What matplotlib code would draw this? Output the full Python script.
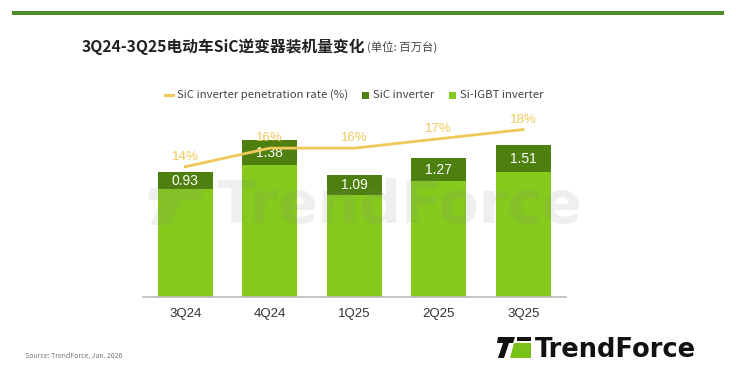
import numpy as np
import matplotlib.pyplot as plt
from matplotlib.patches import Polygon, Rectangle

plt.rcParams['font.family'] = ['Noto Sans CJK SC', 'DejaVu Sans']

# data (units: million)
quarters = ['3Q24', '4Q24', '1Q25', '2Q25', '3Q25']
sic = [0.93, 1.38, 1.09, 1.27, 1.51]
igbt = [6.0, 7.33, 5.67, 6.44, 6.93]
rate = [14, 16, 16, 17, 18]

c_sic = '#4e8010'
c_igbt = '#84c91b'
c_line = '#f0c75a'

fig = plt.figure(figsize=(7.36, 3.86), dpi=100)

def fpx(px, py):
    # pixel position -> figure fraction
    return (px/736, 1 - py/386)

# top green rule
fig.add_artist(Rectangle(fpx(12, 15), 712/736, 3.5/386,
                         transform=fig.transFigure, color='#4c8a2a', lw=0))

# title
fig.text(365/736, 1 - 47/386, '3Q24-3Q25电动车SiC逆变器装机量变化',
         ha='right', va='center', fontsize=11.3, fontweight='bold', color='#222222')
fig.text(367/736, 1 - 48/386, '(单位: 百万台)', ha='left', va='center',
         fontsize=8.2, color='#444444')

ax = fig.add_axes([143/736, (386-297)/386, 422.5/736, 187/386])
x = np.arange(len(quarters))
ax.bar(x, igbt, width=0.65, color=c_igbt, zorder=2, label='Si-IGBT inverter')
ax.bar(x, sic, width=0.65, bottom=igbt, color=c_sic, zorder=2, label='SiC inverter')
for i in range(len(x)):
    ax.text(x[i], igbt[i] + sic[i] / 2, f'{sic[i]:.2f}', ha='center', va='center',
            color='white', fontsize=10, zorder=5, family='Liberation Sans')

ax.set_xlim(-0.5, 4.5)
ax.set_ylim(0, 10.4)
ax.set_xticks(x)
ax.set_xticklabels(quarters, fontsize=9.5, color='#333333', family='Liberation Sans')
ax.tick_params(axis='x', length=0, pad=8)
ax.set_yticks([])
for s in ['top', 'right', 'left']:
    ax.spines[s].set_visible(False)
ax.spines['bottom'].set_color('#bbbbbb')
ax.spines['bottom'].set_linewidth(1.2)

ax2 = ax.twinx()
ax2.plot(x, rate, color=c_line, lw=2, zorder=4)
for i in range(len(x)):
    ax2.annotate(f'{rate[i]}%', (x[i], rate[i]), xytext=(0, 7), textcoords='offset points',
                 ha='center', va='center', color=c_line, fontsize=9.5,
                 family='Liberation Sans')
ax2.set_ylim(0, 20.1)
ax2.set_yticks([])
for s in ['top', 'right', 'left', 'bottom']:
    ax2.spines[s].set_visible(False)

# legend drawn by hand
ly = 1 - 95/386
fig.add_artist(plt.Line2D([165/736, 173/736], [ly, ly], color=c_line, lw=2.2))
fig.text(177/736, ly, 'SiC inverter penetration rate (%)', va='center', fontsize=8.2, color='#444444')
fig.add_artist(Rectangle((362/736, ly - 3.5/386), 7/736, 7/386, color=c_sic, lw=0))
fig.text(373/736, ly, 'SiC inverter', va='center', fontsize=8.2, color='#444444')
fig.add_artist(Rectangle((449/736, ly - 3.5/386), 7/736, 7/386, color=c_igbt, lw=0))
fig.text(460/736, ly, 'Si-IGBT inverter', va='center', fontsize=8.2, color='#444444')

# watermark
fig.add_artist(Polygon([fpx(150, 188), fpx(205, 188), fpx(200, 200), fpx(182, 200),
                        fpx(170, 225), fpx(150, 225), fpx(162, 200), fpx(148, 200)],
                       closed=True, transform=fig.transFigure, color='#888888',
                       alpha=0.12, lw=0, zorder=10))
fig.text(400/736, 1 - 206/386, 'TrendForce', ha='center', va='center', fontsize=42,
         fontweight='bold', color='#888888', alpha=0.13, zorder=10, family='DejaVu Sans')

# source
fig.text(25/736, 1 - 356/386, 'Source: TrendForce, Jan. 2026', fontsize=5, color='#777777',
         va='center')

# logo
fig.add_artist(Polygon([fpx(498, 337), fpx(515, 337), fpx(513, 343), fpx(509, 343),
                        fpx(504, 358), fpx(498, 358), fpx(503, 343), fpx(497, 343)],
                       closed=True, transform=fig.transFigure, color='#111111', lw=0))
fig.add_artist(Polygon([fpx(514, 343), fpx(531, 343), fpx(531, 358), fpx(510, 358)],
                       closed=True, transform=fig.transFigure, color='#7ac21a', lw=0))
fig.add_artist(Rectangle(fpx(517, 341), 14/736, 4/386, transform=fig.transFigure,
                         color='#111111', lw=0))
fig.text(535/736, 1 - 350/386, 'TrendForce', ha='left', va='center', fontsize=18.5,
         fontweight='bold', color='#111111', family='DejaVu Sans')

fig.savefig('out.png', dpi=100)
